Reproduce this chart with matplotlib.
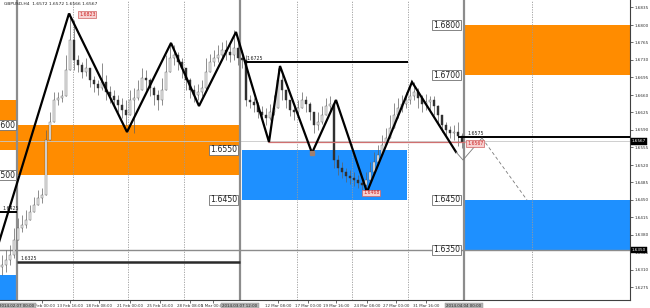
import matplotlib
matplotlib.use('Agg')
import matplotlib.pyplot as plt
import matplotlib.transforms as mtransforms

# ---------------- data ----------------
chart_title = "GBPUSD,H4  1.6572 1.6572 1.6566 1.6567"

closes = [1.6320, 1.6330, 1.6340, 1.6370,
          1.6394, 1.6400, 1.6410, 1.6426, 1.6440, 1.6454, 1.6460,
          1.6570, 1.6606, 1.6650, 1.6654, 1.6658, 1.6710, 1.6770, 1.6730,
          1.6720, 1.6706, 1.6714, 1.6690, 1.6682, 1.6674, 1.6686, 1.6666, 1.6658, 1.6650, 1.6640, 1.6630, 1.6620,
          1.6650, 1.6654, 1.6670, 1.6694, 1.6690, 1.6674, 1.6660, 1.6650, 1.6670, 1.6706, 1.6734, 1.6740, 1.6726, 1.6714,
          1.6690, 1.6670, 1.6660, 1.6666, 1.6674, 1.6706, 1.6726, 1.6734, 1.6740, 1.6750, 1.6746, 1.6740, 1.6754, 1.6734,
          1.6730, 1.6650, 1.6646, 1.6640, 1.6626, 1.6620, 1.6614, 1.6626, 1.6634, 1.6690, 1.6670, 1.6650, 1.6630, 1.6626,
          1.6634, 1.6650, 1.6642, 1.6626, 1.6600, 1.6606, 1.6620, 1.6638, 1.6642,
          1.6530, 1.6514, 1.6506, 1.6498, 1.6494, 1.6490, 1.6484, 1.6480, 1.6490, 1.6506, 1.6526, 1.6540, 1.6560, 1.6574,
          1.6594, 1.6620, 1.6634, 1.6642, 1.6650, 1.6658, 1.6666, 1.6654, 1.6642, 1.6646, 1.6650, 1.6638, 1.6620, 1.6600,
          1.6590, 1.6584, 1.6586, 1.6578, 1.6566]

highs = [1.6340, 1.6350, 1.6360, 1.6394,
         1.6414, 1.6420, 1.6430, 1.6440, 1.6456, 1.6470, 1.6474,
         1.6590, 1.6626, 1.6666, 1.6666, 1.6670, 1.6740, 1.6824, 1.6810,
         1.6740, 1.6726, 1.6734, 1.6710, 1.6698, 1.6690, 1.6724, 1.6700, 1.6678, 1.6670, 1.6660, 1.6654, 1.6650,
         1.6670, 1.6674, 1.6690, 1.6714, 1.6710, 1.6694, 1.6678, 1.6670, 1.6694, 1.6740, 1.6766, 1.6760, 1.6746, 1.6734,
         1.6714, 1.6694, 1.6680, 1.6682, 1.6690, 1.6734, 1.6742, 1.6750, 1.6760, 1.6766, 1.6770, 1.6760, 1.6790, 1.6774,
         1.6750, 1.6740, 1.6660, 1.6654, 1.6646, 1.6638, 1.6634, 1.6642, 1.6660, 1.6714, 1.6706, 1.6670, 1.6650, 1.6642,
         1.6650, 1.6666, 1.6658, 1.6646, 1.6626, 1.6626, 1.6638, 1.6654, 1.6658,
         1.6650, 1.6540, 1.6526, 1.6514, 1.6510, 1.6506, 1.6500, 1.6494, 1.6506, 1.6526, 1.6546, 1.6560, 1.6580, 1.6594,
         1.6620, 1.6644, 1.6654, 1.6660, 1.6666, 1.6678, 1.6686, 1.6674, 1.6660, 1.6662, 1.6658, 1.6658, 1.6640, 1.6618,
         1.6606, 1.6598, 1.6600, 1.6606, 1.6584]

lows = [1.6300, 1.6306, 1.6320, 1.6334,
        1.6380, 1.6386, 1.6394, 1.6410, 1.6426, 1.6440, 1.6444,
        1.6460, 1.6580, 1.6626, 1.6640, 1.6646, 1.6660, 1.6710, 1.6710,
        1.6706, 1.6694, 1.6698, 1.6676, 1.6666, 1.6660, 1.6670, 1.6650, 1.6644, 1.6634, 1.6626, 1.6614, 1.6600,
        1.6630, 1.6584, 1.6650, 1.6674, 1.6670, 1.6658, 1.6640, 1.6630, 1.6640, 1.6686, 1.6714, 1.6720, 1.6710, 1.6694,
        1.6670, 1.6654, 1.6646, 1.6650, 1.6658, 1.6670, 1.6706, 1.6718, 1.6726, 1.6734, 1.6730, 1.6726, 1.6730, 1.6720,
        1.6714, 1.6638, 1.6634, 1.6626, 1.6614, 1.6610, 1.6600, 1.6610, 1.6620, 1.6634, 1.6650, 1.6634, 1.6618, 1.6610,
        1.6618, 1.6634, 1.6626, 1.6610, 1.6584, 1.6590, 1.6602, 1.6620, 1.6626,
        1.6514, 1.6500, 1.6494, 1.6486, 1.6482, 1.6478, 1.6474, 1.6470, 1.6466, 1.6490, 1.6510, 1.6526, 1.6546, 1.6560,
        1.6574, 1.6600, 1.6614, 1.6626, 1.6634, 1.6642, 1.6650, 1.6634, 1.6626, 1.6630, 1.6626, 1.6620, 1.6600, 1.6586,
        1.6578, 1.6574, 1.6570, 1.6558, 1.6554]

# zigzag turning points (bar index, price)
zigzag_x = [-2.5, 16.75, 31.25, 42.25, 49.25, 58.5, 66.75, 69.5, 77.5, 83.5, 91.25, 102.5, 113.5]
zigzag_y = [1.6320, 1.6823, 1.6586, 1.6764, 1.6638, 1.6786, 1.6566, 1.6718, 1.6544, 1.6650, 1.6466, 1.6686, 1.6546]

# projected path
proj_x = [113.5, 115.25, 120.0]
proj_y = [1.6546, 1.6530, 1.6574]
proj_dash_x = [120.0, 131.25]
proj_dash_y = [1.6574, 1.6450]

# supply / demand zones
zone_x0 = [-0.5, -0.5, 3.75, 60.0, 115.75, 115.5]
zone_x1 = [3.75, 3.75, 59.5, 101.25, 157.0, 157.0]
zone_lo = [1.6550, 1.6200, 1.6500, 1.6450, 1.6700, 1.6350]
zone_hi = [1.6650, 1.6300, 1.6600, 1.6550, 1.6800, 1.6450]
zone_kind = ['sell', 'buy', 'sell', 'buy', 'sell', 'buy']

# zone price labels
zlabel_x = [3.25, 3.25, 58.75, 58.75, 114.5, 114.5, 114.5, 114.5]
zlabel_p = [1.6600, 1.6500, 1.6550, 1.6450, 1.6800, 1.6700, 1.6450, 1.6350]

# horizontal line segments
hl_price = [1.6725, 1.6566, 1.6575, 1.6325, 1.6425]
hl_x0 = [60.75, 66.5, 114.0, 3.75, -0.5]
hl_x1 = [101.5, 115.75, 157.0, 59.5, 3.75]
hl_text_x = [61.0, None, 116.25, 4.5, 0.2]

# full-width lines
bid_price = 1.6567
level_price = 1.6350

# red tip labels
tip_x = [19.25, 90.25, 116.25]
tip_p = [1.6821, 1.6464, 1.6563]
tip_text = ["1.6823", "1.6468", "1.6567"]

# vertical lines
sep_x = [3.75, 59.5, 115.5]
sep_text = ["2014.02.07 00:00", "2014.03.07 12:00", "2014.04.04 00:00"]
grid_x = [17.75, 31.5, 45.5, 73.75, 87.5, 101.5, 132.5]

time_pos = [10.0, 17, 24.25, 32, 39.5, 47, 52.75, 69, 76.5, 83.5, 91.25, 98.5, 106]
time_lab = ["11 Feb 00:00", "13 Feb 16:00", "18 Feb 08:00", "21 Feb 00:00", "25 Feb 16:00",
            "28 Feb 08:00", "5 Mar 00:00", "12 Mar 08:00", "17 Mar 00:00", "19 Mar 16:00",
            "24 Mar 08:00", "27 Mar 00:00", "31 Mar 16:00"]

price_ticks = [1.6835, 1.6800, 1.6765, 1.6730, 1.6695, 1.6660, 1.6625, 1.6590, 1.6555,
               1.6520, 1.6485, 1.6450, 1.6415, 1.6380, 1.6345, 1.6310, 1.6275]

# ---------------- drawing ----------------
ORANGE = '#FF8C00'
BLUE = '#1E90FF'

fig = plt.figure(figsize=(6.5, 3.08), dpi=100)
ax = fig.add_axes([0, 8 / 308, 630 / 650, 300 / 308])
ax.set_xlim(-0.5, 157.0)
ax.set_ylim(1.6250, 1.6850)

# zones
for x0, x1, lo, hi, k in zip(zone_x0, zone_x1, zone_lo, zone_hi, zone_kind):
    ax.fill_between([x0, x1], lo, hi, color=ORANGE if k == 'sell' else BLUE,
                    lw=0, zorder=1)

# grid and separators
for gx in grid_x:
    ax.axvline(gx, color='#9a9a9a', lw=0.6, ls=(0, (1.5, 1.5)), zorder=1.5)
for sx in sep_x:
    ax.axvline(sx, color='#8c8c8c', lw=1.6, zorder=2)

# full width lines
ax.axhline(bid_price, color='#c8c8c8', lw=0.6, zorder=1.6)
ax.axhline(level_price, color='#8c8c8c', lw=1.0, zorder=1.6)

# candles
n = len(closes)
xs = list(range(n))
opens = [closes[0] - 0.0004] + closes[:-1]
hi_adj = [max(h, o, c) for h, o, c in zip(highs, opens, closes)]
lo_adj = [min(l, o, c) for l, o, c in zip(lows, opens, closes)]
ax.vlines(xs, lo_adj, hi_adj, color='#606060', lw=0.5, zorder=3)
for x, o, c in zip(xs, opens, closes):
    bottom = min(o, c)
    height = max(abs(c - o), 0.00008)
    if c >= o:
        ax.bar(x, height, bottom=bottom, width=0.38, facecolor='#ececec',
               edgecolor='#5a5a5a', lw=0.3, zorder=3.2)
    else:
        ax.bar(x, height, bottom=bottom, width=0.38, facecolor='#303030',
               edgecolor='#303030', lw=0.3, zorder=3.2)

# horizontal segments
hl_color = ['black', '#d07070', 'black', '#2a2a2a', 'black']
hl_lw = [1.4, 0.9, 1.4, 1.8, 1.4]
for p, x0, x1, c, w, tx in zip(hl_price, hl_x0, hl_x1, hl_color, hl_lw, hl_text_x):
    ax.plot([x0, x1], [p, p], color=c, lw=w, zorder=3.6, solid_capstyle='butt')
    if tx is not None:
        ax.text(tx, p + 0.0003, f"{p:.4f}", fontsize=3.4, color='#202020',
                ha='left', va='bottom', zorder=6)

# zigzag
ax.plot(zigzag_x, zigzag_y, color='black', lw=1.6, zorder=4, solid_joinstyle='miter')
ax.plot([zigzag_x[8]], [zigzag_y[8]], marker='s', ms=2.2, color='#a08070', zorder=4.5)
ax.plot(proj_x, proj_y, color='#7a7a7a', lw=0.6, zorder=4)
ax.plot(proj_dash_x, proj_dash_y, color='#7a7a7a', lw=0.6, ls=(0, (4, 3)), zorder=4)

# zone labels
for x, p in zip(zlabel_x, zlabel_p):
    ax.text(x, p, f"{p:.4f}", fontsize=5.6, color='#222222', ha='right', va='center',
            zorder=6, bbox=dict(boxstyle='square,pad=0.12', fc='white', ec='#707070', lw=0.6))

# red tip labels
for x, p, t in zip(tip_x, tip_p, tip_text):
    ax.text(x, p, t, fontsize=3.3, color='#cc2222', ha='left', va='center', zorder=6,
            bbox=dict(boxstyle='square,pad=0.2', fc='#f7d0d0', ec='#d06060', lw=0.5))

# title
ax.text(0.006, 0.993, chart_title, transform=ax.transAxes, fontsize=3.2,
        color='#202020', ha='left', va='top', zorder=7)

# axes styling
for s in ['top', 'left']:
    ax.spines[s].set_visible(False)
ax.spines['right'].set_color('#404040')
ax.spines['bottom'].set_color('#404040')
ax.spines['right'].set_linewidth(0.8)
ax.spines['bottom'].set_linewidth(0.8)

ax.yaxis.tick_right()
ax.set_yticks(price_ticks)
ax.set_yticklabels([f"{t:.4f}" for t in price_ticks])
ax.tick_params(axis='y', labelsize=3.0, length=2, width=0.5, pad=1.5, colors='#303030')
ax.set_xticks(time_pos)
ax.set_xticklabels(time_lab)
ax.tick_params(axis='x', labelsize=2.9, length=2, width=0.5, pad=1.0, colors='#303030')

# right axis price boxes
ytrans = mtransforms.blended_transform_factory(ax.transAxes, ax.transData)
for p in [bid_price, level_price]:
    ax.text(1.003, p, f"{p:.4f}", transform=ytrans, fontsize=3.0, color='white',
            ha='left', va='center', zorder=8, clip_on=False,
            bbox=dict(boxstyle='square,pad=0.25', fc='black', ec='black', lw=0.3))

# separator date labels on time axis
xtrans = mtransforms.blended_transform_factory(ax.transData, ax.transAxes)
for x, t in zip(sep_x, sep_text):
    ax.text(x, -0.012, t, transform=xtrans, fontsize=2.9, color='#202020',
            ha='center', va='top', zorder=8, clip_on=False,
            bbox=dict(boxstyle='square,pad=0.25', fc='#b4b4b4', ec='#909090', lw=0.3))

fig.savefig('out.png', dpi=100, facecolor='white')
